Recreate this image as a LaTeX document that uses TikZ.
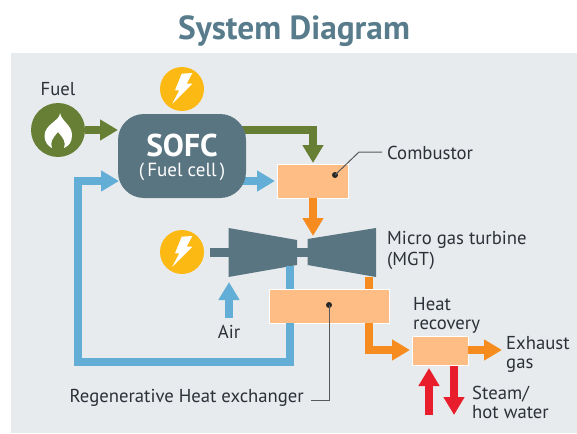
\documentclass[tikz,border=0pt]{standalone}
\usepackage{fontspec}
\setmainfont{PT Sans}
\usetikzlibrary{arrows.meta,calc,backgrounds}
\definecolor{panel}{HTML}{E8EBED}
\definecolor{slate}{HTML}{5A7582}
\definecolor{titlec}{HTML}{587C8C}
\definecolor{fuelg}{HTML}{667F35}
\definecolor{oran}{HTML}{F68B20}
\definecolor{blu}{HTML}{62AED6}
\definecolor{redc}{HTML}{E81E2C}
\definecolor{boxc}{HTML}{FDBD85}
\definecolor{yell}{HTML}{FDB913}
\definecolor{txt}{HTML}{2C3038}
\tikzset{
  x=1pt,y=-1pt,
  flow/.style={line width=8pt,line join=miter,-{Triangle[length=18pt,width=20pt]}},
  plainflow/.style={line width=8pt},
  boxn/.style={draw=white,line width=0.6pt,fill=boxc,inner sep=0pt,outer sep=0pt,anchor=north west},
  lab/.style={font=\fontsize{18.7}{19}\selectfont,text=txt,inner sep=0pt,align=left},
  leader/.style={draw=black!65,line width=1pt},
  dotn/.style={circle,fill=black!85,inner sep=0pt,minimum size=6pt},
  discn/.style={circle,inner sep=0pt,minimum size=44pt,fill=yell},
  boltshape/.pic={\fill[white] (-0.3,-15.3) -- (10.3,-16) -- (4.7,-5.3) -- (10.3,-5.3) -- (-9.7,14.7) -- (-2.7,1.3) -- (-7,1.3) -- cycle;}
}
\begin{document}
\begin{tikzpicture}
\useasboundingbox (0,0) rectangle (577,433);
\begin{pgfonlayer}{background}
\fill[panel] (11,53) rectangle (577,433);
\end{pgfonlayer}
\node[font=\bfseries\fontsize{33.4}{38}\selectfont,text=titlec,inner sep=0pt] (title) at (294,31.5) {System Diagram};

% components
\node[circle,fill=fuelg,inner sep=0pt,minimum size=54pt] (fuel) at (58,130) {};
\fill[white] (60,113) .. controls (60,121) and (44.5,124) .. (44.5,136) .. controls (44.5,142) and (48,146) .. (52,148) .. controls (50,142) and (52,139) .. (58,132) .. controls (64,139) and (66,142) .. (64,148) .. controls (69,146) and (72,142) .. (72,135) .. controls (72,125) and (62,122) .. (60,113) -- cycle;
\node[lab] (fuellab) at (58,89) {Fuel};

\node[discn] (bolta) at (182,89) {};
\pic at (bolta) {boltshape};
\node[discn] (boltb) at (182,252) {};
\pic at (boltb) {boltshape};

\node[fill=slate,rounded corners=26pt,minimum width=128pt,minimum height=84pt,inner sep=0pt,outer sep=0pt] (sofc) at (182,156) {};
\node[font=\bfseries\fontsize{31.5}{34}\selectfont,text=white,inner sep=0pt] (sofcl) at (182,145) {SOFC};
\node[font=\fontsize{19}{21}\selectfont,text=white,inner sep=0pt] (sofcm) at (182,172) {(\,Fuel cell\,)};

\node[boxn,minimum width=71pt,minimum height=34pt] (comb) at (277,164) {};
\node[boxn,minimum width=120pt,minimum height=34pt] (hx) at (269,289) {};
\node[boxn,minimum width=56pt,minimum height=29pt] (hr) at (412,336) {};

% turbine
\coordinate (tl1) at (228.5,228);
\coordinate (tl2) at (297,240);
\coordinate (tl3) at (297,265);
\coordinate (tl4) at (228.5,277);
\coordinate (tr1) at (376,228);
\coordinate (tr2) at (307.5,239);
\coordinate (tr3) at (307.5,265);
\coordinate (tr4) at (376,277);
\coordinate (shafta) at (210,252.5);
\coordinate (shaftb) at (229,252.5);
\coordinate (shaftc) at (296,252.5);
\coordinate (shaftd) at (308,252.5);
\draw[slate,line width=8.5pt] (shafta) -- (shaftb);
\draw[slate,line width=8.5pt] (shaftc) -- (shaftd);
\fill[slate] (tl1) -- (tl2) -- (tl3) -- (tl4) -- cycle;
\fill[slate] (tr1) -- (tr2) -- (tr3) -- (tr4) -- cycle;

% green flows
\coordinate (g1) at (313,130);
\draw[flow,fuelg] (fuel.east) -- (sofc.west |- fuel.east);
\begin{pgfonlayer}{background}
\draw[flow,fuelg] ($(sofc.east |- g1)+(-10,0)$) -- (g1) -- ($(comb.north -| g1)+(0,-1)$);
\end{pgfonlayer}

% blue flows
\coordinate (b0) at (290,266);
\coordinate (b1) at (290,323);
\coordinate (b2) at (290,362);
\coordinate (b3) at (78,362);
\coordinate (b4) at (78,181);
\draw[plainflow,blu] (b0) -- (hx.north -| b0);
\draw[flow,blu] (b1) -- (b2) -- (b3) -- (b4) -- ($(sofc.west |- b4)+(1,0)$);
\begin{pgfonlayer}{background}
\draw[flow,blu] ($(sofc.east |- b4)+(-10,0)$) -- ($(comb.west |- b4)+(-2,0)$);
\end{pgfonlayer}
\node[lab] (air) at (229,332) {Air};
\draw[flow,blu] ($(air.north)+(0,-7)$) -- (229,282);

% orange flows
\coordinate (o0) at (313,198);
\coordinate (o1) at (313,236);
\draw[flow,oran] (o0) -- (o1);
\coordinate (o2) at (369,277);
\coordinate (o3) at (369,350);
\draw[plainflow,oran] (o2) -- (hx.north -| o2);
\draw[flow,oran] (hx.south -| o2) -- (o3) -- ($(hr.west |- o3)+(-2,0)$);
\draw[flow,oran] (hr.east |- o3) -- (502,350);

% red flows
\coordinate (r1) at (429,415);
\coordinate (r2) at (429,368);
\coordinate (r3) at (454,366);
\coordinate (r4) at (454,415);
\draw[flow,redc] (r1) -- (r2);
\draw[flow,redc] (r3) -- (r4);

% labels
\node[lab,anchor=west] (comblab) at (387,153) {Combustor};
\node[lab,anchor=north west] (mgtlab) at (387,231.5) {Micro gas turbine\\[2pt](MGT)};
\node[lab,anchor=north west] (hrlab) at (413,297.5) {Heat\\recovery};
\node[lab,anchor=north west] (exlab) at (506,336) {Exhaust\\gas};
\node[lab,anchor=north west] (stlab) at (472,386) {Steam/\\hot water};
\node[lab,anchor=east] (hxlab) at (304,398) {Regenerative Heat exchanger};

% leaders
\node[dotn] (combdot) at (335,175) {};
\coordinate (cl) at (359,152);
\draw[leader] (combdot.center) -- (cl) -- ($(comblab.west)+(-5,-1)$);
\node[dotn] (hxdot) at (329,305) {};
\coordinate (hl) at (329,400);
\draw[leader] (hxdot.center) -- (hl) -- ($(hxlab.east)+(7,2)$);
\end{tikzpicture}
\end{document}
